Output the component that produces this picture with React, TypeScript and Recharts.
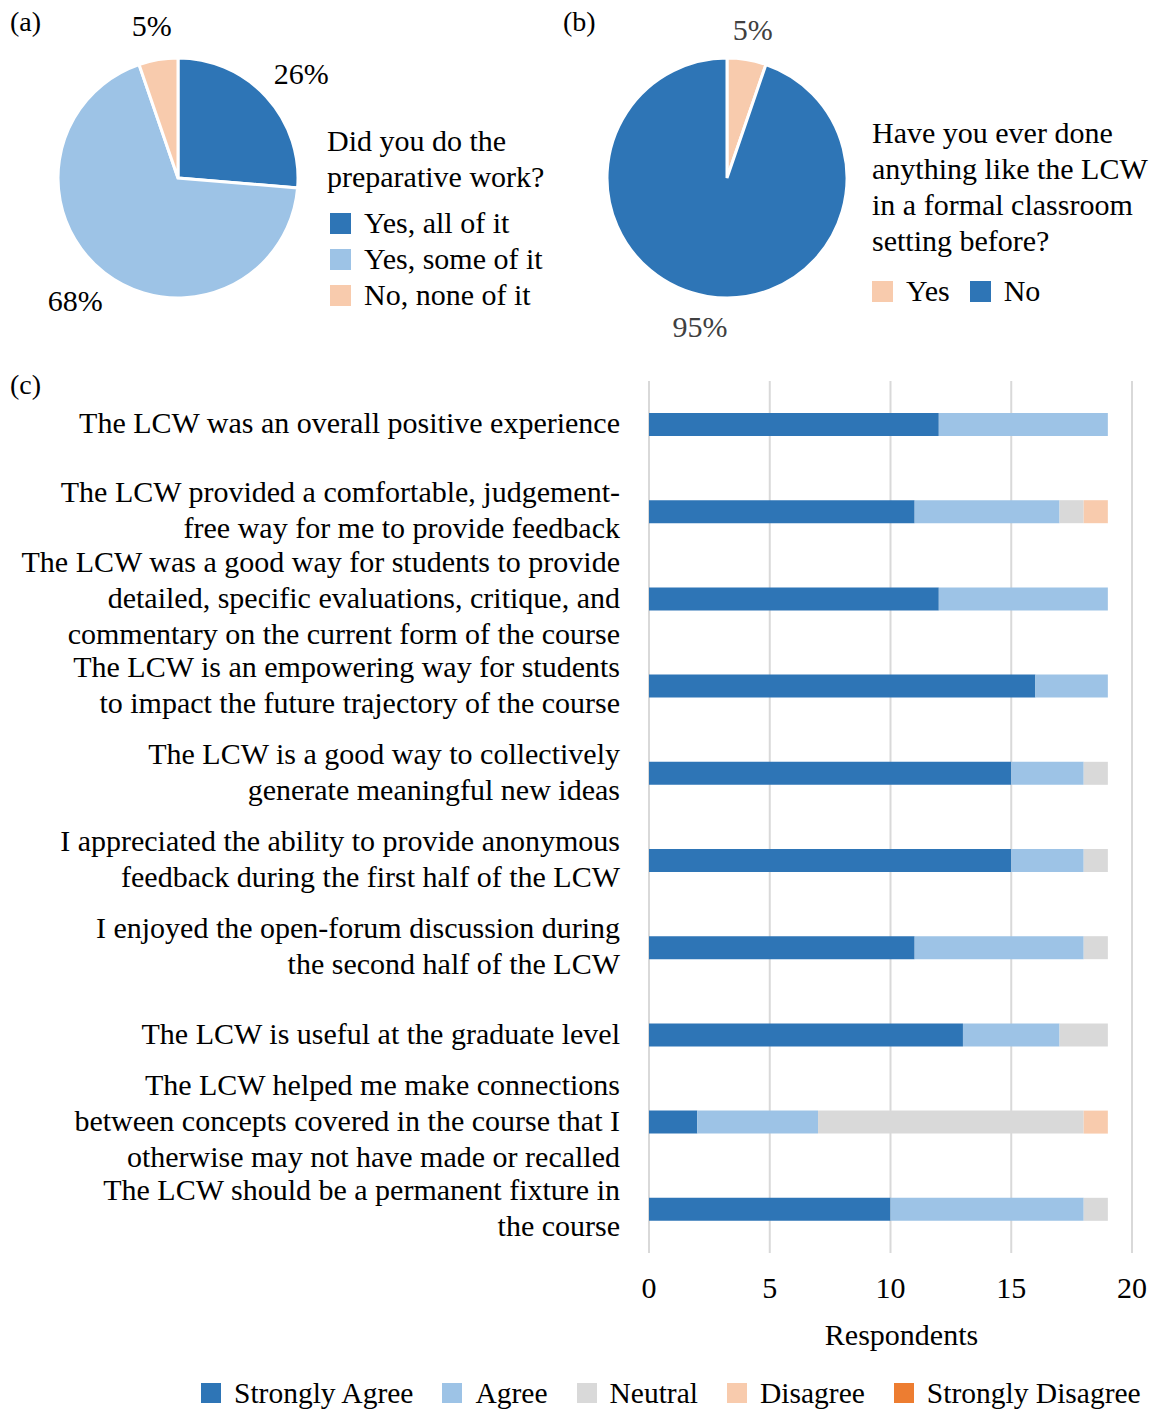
import React from "react";
import {
  PieChart,
  Pie,
  Cell,
  BarChart,
  Bar,
  XAxis,
  YAxis,
  CartesianGrid,
  Label,
} from "recharts";

const FONT = "'Liberation Serif', 'Times New Roman', serif";
const FS = 30;

const DARK = "#2E75B6";
const LIGHT = "#9DC3E6";
const GRAY = "#D9D9D9";
const PEACH = "#F8CBAD";
const ORANGE = "#ED7D31";

// (a) Did you do the preparative work? (respondent counts)
const prepLabels = ["Yes, all of it", "Yes, some of it", "No, none of it"];
const prepCounts = [5, 13, 1];
const prepColors = [DARK, LIGHT, PEACH];

// (b) done anything like the LCW before?
const beforeLabels = ["Yes", "No"];
const beforeCounts = [1, 18];
const beforeColors = [PEACH, DARK];

// (c) likert statements
const statements = [
  "The LCW was an overall positive experience",
  "The LCW provided a comfortable, judgement-\nfree way for me to provide feedback",
  "The LCW was a good way for students to provide\ndetailed, specific evaluations, critique, and\ncommentary on the current form of the course",
  "The LCW is an empowering way for students\nto impact the future trajectory of the course",
  "The LCW is a good way to collectively\ngenerate meaningful new ideas",
  "I appreciated the ability to provide anonymous\nfeedback during the first half of the LCW",
  "I enjoyed the open-forum discussion during\nthe second half of the LCW",
  "The LCW is useful at the graduate level",
  "The LCW helped me make connections\nbetween concepts covered in the course that I\notherwise may not have made or recalled",
  "The LCW should be a permanent fixture in\nthe course",
];
const stronglyAgree = [12, 11, 12, 16, 15, 15, 11, 13, 2, 10];
const agree = [7, 6, 7, 3, 3, 3, 7, 4, 5, 8];
const neutral = [0, 1, 0, 0, 1, 1, 1, 2, 11, 1];
const disagree = [0, 1, 0, 0, 0, 0, 0, 0, 1, 0];
const stronglyDisagree = [0, 0, 0, 0, 0, 0, 0, 0, 0, 0];

const xTicks = [0, 5, 10, 15, 20];

const series = [
  { key: "sa", name: "Strongly Agree", values: stronglyAgree, color: DARK },
  { key: "a", name: "Agree", values: agree, color: LIGHT },
  { key: "n", name: "Neutral", values: neutral, color: GRAY },
  { key: "d", name: "Disagree", values: disagree, color: PEACH },
  { key: "sd", name: "Strongly Disagree", values: stronglyDisagree, color: ORANGE },
];

const likertData = statements.map((s, i) => {
  const row: Record<string, any> = { statement: s };
  series.forEach((ser) => (row[ser.key] = ser.values[i]));
  return row;
});

const prepData = prepLabels.map((name, i) => ({ name, value: prepCounts[i] }));
const beforeData = beforeLabels.map((name, i) => ({ name, value: beforeCounts[i] }));

const RAD = Math.PI / 180;

// outside-end label: text box pushed out so its near edge sits a gap off the rim
const pieLabel = (gap: number, color: string) => (props: any) => {
  const { cx, cy, midAngle, outerRadius, percent } = props;
  const txt = `${Math.round(percent * 100)}%`;
  const w = ((txt.length - 1) * 0.5 + 0.83) * FS;
  const h = FS;
  const c = Math.cos(-midAngle * RAD);
  const s = Math.sin(-midAngle * RAD);
  const x = cx + (outerRadius + gap) * c + (w / 2) * c;
  const y = cy + (outerRadius + gap) * s + (h / 2) * s;
  return (
    <text x={x} y={y} textAnchor="middle" dominantBaseline="central" fontSize={FS} fontFamily={FONT} fill={color}>
      {txt}
    </text>
  );
};

const StatementTick = (props: any) => {
  const { x, y, payload } = props;
  const lines = String(payload.value).split("\n");
  const startY = y - 2 - ((lines.length - 1) * 36) / 2;
  return (
    <text x={x} y={startY} textAnchor="end" fontSize={FS} fontFamily={FONT} fill="#000">
      {lines.map((ln, i) => (
        <tspan key={i} x={x} y={startY + i * 36} dominantBaseline="central">
          {ln}
        </tspan>
      ))}
    </text>
  );
};

const Swatch = ({ color, size = 21 }: { color: string; size?: number }) => (
  <span style={{ display: "inline-block", width: size, height: size, background: color, marginRight: 13, verticalAlign: "middle" }} />
);

const panelLabel: React.CSSProperties = { position: "absolute", fontSize: 28, fontFamily: FONT, lineHeight: "30px" };
const noMargin = { top: 0, right: 0, bottom: 0, left: 0 };

export default function App() {
  return (
    <div style={{ position: "absolute", left: 0, top: 0, width: 1155, height: 1409, background: "#fff", fontFamily: FONT, color: "#000", overflow: "hidden" }}>
      <div style={{ ...panelLabel, left: 10, top: 7 }}>(a)</div>
      <div style={{ ...panelLabel, left: 563, top: 7 }}>(b)</div>
      <div style={{ ...panelLabel, left: 10, top: 370 }}>(c)</div>

      {/* (a) pie */}
      <div style={{ position: "absolute", left: 0, top: 0 }}>
        <PieChart width={360} height={340} margin={noMargin}>
          <Pie
            data={prepData}
            dataKey="value"
            cx={178}
            cy={178}
            outerRadius={120}
            startAngle={90}
            endAngle={-270}
            stroke="#fff"
            strokeWidth={3}
            label={pieLabel(20, "#000")}
            labelLine={false}
            isAnimationActive={false}
          >
            {prepData.map((d, i) => (
              <Cell key={d.name} fill={prepColors[i]} />
            ))}
          </Pie>
        </PieChart>
      </div>
      <div style={{ position: "absolute", left: 327, top: 123, fontSize: FS, lineHeight: "36px" }}>
        <div>Did you do the</div>
        <div>preparative work?</div>
        <div style={{ marginTop: 10 }}>
          {prepLabels.map((l, i) => (
            <div key={l} style={{ display: "flex", alignItems: "center", height: 36, paddingLeft: 3 }}>
              <Swatch color={prepColors[i]} />
              <span>{l}</span>
            </div>
          ))}
        </div>
      </div>

      {/* (b) pie */}
      <div style={{ position: "absolute", left: 549, top: 0 }}>
        <PieChart width={360} height={345} margin={noMargin}>
          <Pie
            data={beforeData}
            dataKey="value"
            cx={178}
            cy={178}
            outerRadius={120}
            startAngle={90}
            endAngle={-270}
            stroke="#fff"
            strokeWidth={3}
            label={pieLabel(16, "#404040")}
            labelLine={false}
            isAnimationActive={false}
          >
            {beforeData.map((d, i) => (
              <Cell key={d.name} fill={beforeColors[i]} />
            ))}
          </Pie>
        </PieChart>
      </div>
      <div style={{ position: "absolute", left: 872, top: 115, fontSize: FS, lineHeight: "36px" }}>
        <div>Have you ever done</div>
        <div>anything like the LCW</div>
        <div>in a formal classroom</div>
        <div>setting before?</div>
        <div style={{ display: "flex", alignItems: "center", marginTop: 14, height: 36 }}>
          {beforeLabels.map((l, i) => (
            <span key={l} style={{ display: "inline-flex", alignItems: "center", marginRight: 20 }}>
              <Swatch color={beforeColors[i]} />
              <span>{l}</span>
            </span>
          ))}
        </div>
      </div>

      {/* (c) stacked bars */}
      <div style={{ position: "absolute", left: 0, top: 340 }}>
        <BarChart
          width={1155}
          height={1030}
          data={likertData}
          layout="vertical"
          margin={{ top: 41, right: 23, bottom: 17, left: 0 }}
          barSize={23}
        >
          <CartesianGrid horizontal={false} stroke={GRAY} strokeWidth={2} />
          <XAxis
            type="number"
            domain={[0, 20]}
            ticks={xTicks}
            axisLine={false}
            tickLine={false}
            tickMargin={18}
            height={100}
            tick={{ fontSize: FS, fontFamily: FONT, fill: "#000" }}
          >
            <Label value="Respondents" position="insideBottom" offset={8} dx={11} style={{ fontSize: FS, fontFamily: FONT, fill: "#000" }} />
          </XAxis>
          <YAxis
            type="category"
            dataKey="statement"
            width={649}
            axisLine={false}
            tickLine={false}
            tickMargin={23}
            interval={0}
            tick={<StatementTick />}
          />
          {series.map((s) => (
            <Bar key={s.key} dataKey={s.key} name={s.name} stackId="x" fill={s.color} isAnimationActive={false} />
          ))}
        </BarChart>
      </div>

      <div style={{ position: "absolute", left: 201, top: 1375, display: "flex", alignItems: "center", fontSize: 29.5, height: 36, whiteSpace: "nowrap" }}>
        {series.map((s) => (
          <span key={s.key} style={{ display: "inline-flex", alignItems: "center", marginRight: 29 }}>
            <Swatch color={s.color} size={20} />
            <span>{s.name}</span>
          </span>
        ))}
      </div>
    </div>
  );
}
